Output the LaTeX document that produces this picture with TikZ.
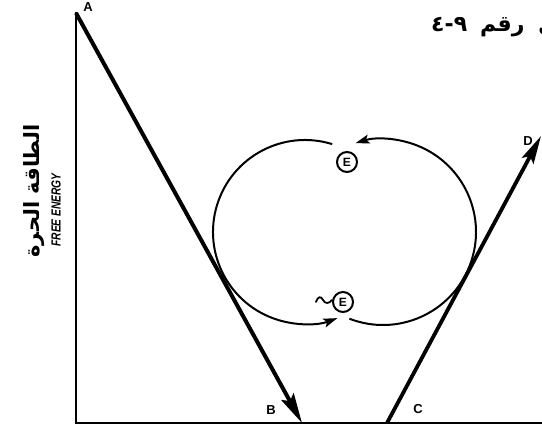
\documentclass[tikz,border=0pt]{standalone}
\usepackage{fontspec}
\usepackage{graphicx}
\setsansfont{Liberation Sans}
\newfontfamily\arabicfont[Script=Arabic]{DejaVu Sans}
\TeXXeTstate=1
\usetikzlibrary{arrows.meta}
\begin{document}
\begin{tikzpicture}[x=1pt,y=1pt,
  lbl/.style={font=\sffamily\bfseries\fontsize{13}{14}\selectfont, inner sep=0pt},
  axisline/.style={line width=2.4pt, line cap=rect},
  bigarrow/.style={line width=4pt, -{Stealth[length=30pt,width=14pt,inset=5pt]}},
  midarrow/.style={line width=3.8pt, -{Stealth[length=28pt,width=13pt,inset=5pt]}},
  loop/.style={line width=2pt, -{Stealth[length=14pt,width=9pt,inset=3pt]}},
  enode/.style={circle, draw, line width=2pt, minimum size=20pt, inner sep=0pt, font=\sffamily\bfseries\fontsize{12}{13}\selectfont}
]
\useasboundingbox (0,0) rectangle (542,431);
\clip (0,0) rectangle (542,431);
% axes and key points
\coordinate (O) at (76,8);
\coordinate (A) at (76,418);
\coordinate (B) at (302,8);
\coordinate (C) at (387,8);
\coordinate (D) at (541,295);
\coordinate (xend) at (542,8);
\coordinate (lc) at (305,199);
\coordinate (rc) at (383,199);
\draw[axisline] (A) -- (O) -- (xend);
\draw[bigarrow] (A) -- (B);
\draw[midarrow] (C) -- (D);
% labels
\node[lbl] (la) at (88,424) {A};
\node[lbl] (lb) at (271,21) {B};
\node[lbl] (lcl) at (418,22) {C};
\node[lbl] (ld) at (528,290) {D};
% loops
\node[enode] (E1) at (347,269) {E};
\node[enode] (E2) at (343,129) {E};
\coordinate (t0) at (316,129);
\coordinate (t1) at (323,131);
\coordinate (t2) at (332,131);
\draw[line width=1.8pt, line cap=round] (t0) .. controls (318,135) and (321,135) .. (t1) .. controls (325,127) and (329,127) .. (t2);
\draw[loop] ([shift={(lc)}]72.8:92) arc[start angle=72.8, end angle=290.6, radius=92pt];
\draw[loop] ([shift={(rc)}]-111.2:93) arc[start angle=-111.2, end angle=107.2, radius=93pt];
% axis titles
\node[rotate=90, font=\sffamily\bfseries\itshape\fontsize{12}{13}\selectfont, inner sep=0pt] (fe) at (56,221) {\scalebox{0.85}[1.1]{FREE ENERGY}};
\node[rotate=90, font=\arabicfont\bfseries\fontsize{21}{24}\selectfont, inner sep=0pt] (ar) at (34,240) {\beginR الطاقة الحرة\endR};
% figure caption (cut at the right edge)
\node[anchor=base west, font=\arabicfont\bfseries\fontsize{22}{25}\selectfont, inner sep=0pt] (title) at (431,399) {\mbox{٤}\mbox{-}\mbox{٩}\hspace{13pt}\beginR شكل\hspace{6pt} رقم\endR};
\end{tikzpicture}
\end{document}
